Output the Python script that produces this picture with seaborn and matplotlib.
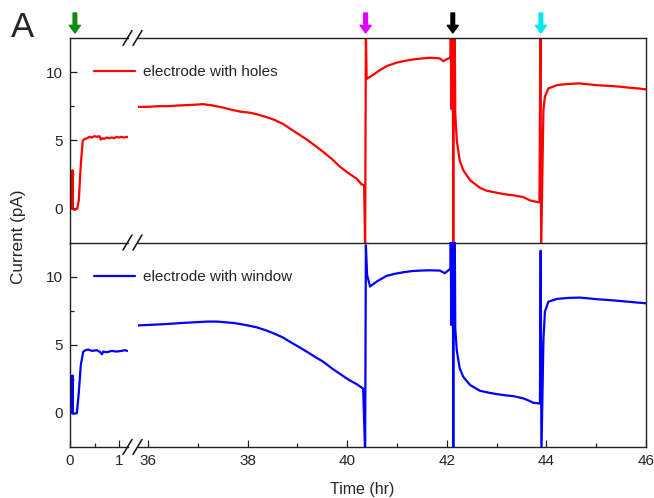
import numpy as np
import pandas as pd
import matplotlib
matplotlib.use("Agg")
import matplotlib.pyplot as plt
from matplotlib.lines import Line2D
from matplotlib.ticker import MultipleLocator, FixedLocator
import seaborn as sns

# ---------------- data ----------------
red_t1 = [0.00, 0.045, 0.05, 0.055, 0.10, 0.15, 0.18, 0.22, 0.26, 0.30, 0.35, 0.40, 0.45, 0.50,
          0.55, 0.60, 0.63, 0.66, 0.70, 0.75, 0.80, 0.85, 0.90, 0.95, 1.00, 1.05, 1.10, 1.17]
red_i1 = [0.00, 0.00, 2.80, -0.05, -0.10, 0.00, 0.60, 3.20, 4.95, 5.10, 5.15, 5.25, 5.20, 5.30,
          5.25, 5.30, 5.05, 5.15, 5.10, 5.20, 5.15, 5.20, 5.15, 5.25, 5.20, 5.25, 5.20, 5.25]

red_t2 = [35.80, 36.00, 36.20, 36.40, 36.60, 36.80, 37.00, 37.10, 37.30, 37.50, 37.70, 37.85,
          38.05, 38.18, 38.35, 38.52, 38.70, 38.85, 39.00, 39.19, 39.35, 39.52, 39.70, 39.86,
          40.02, 40.19, 40.29, 40.34,
          40.36, 40.375, 40.39, 40.50, 40.66, 40.80, 41.00, 41.20, 41.33, 41.50, 41.66, 41.80,
          41.86, 41.93, 42.00, 42.06, 42.075,
          42.08, 42.09, 42.10, 42.11, 42.12, 42.13, 42.14, 42.15, 42.16,
          42.17, 42.20, 42.26, 42.33, 42.47, 42.67, 42.80, 43.00, 43.20, 43.34, 43.54, 43.67,
          43.80, 43.86, 43.88, 43.895, 43.94, 43.97, 44.04, 44.21, 44.40, 44.67, 44.85, 45.01,
          45.20, 45.34, 45.50, 45.68, 45.85, 46.00]
red_i2 = [7.45, 7.45, 7.50, 7.50, 7.55, 7.58, 7.62, 7.65, 7.55, 7.40, 7.22, 7.10,
          7.02, 6.91, 6.73, 6.52, 6.22, 5.86, 5.50, 5.05, 4.62, 4.14, 3.60, 3.04,
          2.60, 2.18, 1.76, 1.70,
          -3.0, 13.0, 9.50, 9.75, 10.15, 10.45, 10.70, 10.85, 10.93, 11.00, 11.05, 11.02,
          11.00, 10.80, 10.95, 11.05, 11.00,
          13.0, 7.3, 13.0, 7.3, 13.0, -3.0, 13.0, 7.3, 13.0,
          7.00, 5.00, 3.50, 2.80, 2.06, 1.50, 1.30, 1.15, 1.02, 0.96, 0.83, 0.59,
          0.48, 0.45, 13.0, -3.0, 7.20, 8.20, 8.80, 9.04, 9.12, 9.17, 9.10, 9.04,
          9.00, 8.97, 8.92, 8.85, 8.80, 8.73]

blue_t1 = [0.00, 0.045, 0.05, 0.055, 0.10, 0.14, 0.18, 0.22, 0.27, 0.32, 0.37, 0.45, 0.55,
           0.62, 0.65, 0.68, 0.75, 0.85, 0.95, 1.05, 1.12, 1.17]
blue_i1 = [0.00, 0.00, 2.75, -0.05, -0.05, 0.00, 1.50, 3.50, 4.50, 4.60, 4.65, 4.55, 4.60,
           4.45, 4.30, 4.50, 4.45, 4.55, 4.50, 4.55, 4.60, 4.55]

blue_t2 = [35.80, 36.00, 36.37, 36.70, 37.04, 37.20, 37.38, 37.55, 37.71, 37.85, 38.00, 38.18,
           38.35, 38.52, 38.70, 38.85, 39.00, 39.19, 39.35, 39.52, 39.70, 39.86, 40.02, 40.19,
           40.32, 40.36, 40.375, 40.40, 40.46, 40.59, 40.79, 40.95, 41.13, 41.30, 41.46, 41.65,
           41.86, 41.96, 42.06, 42.075,
           42.08, 42.09, 42.10, 42.11, 42.12, 42.13, 42.14, 42.15, 42.16,
           42.17, 42.20, 42.26, 42.33, 42.47, 42.67, 42.85, 43.00, 43.20, 43.34, 43.54, 43.65,
           43.74, 43.87, 43.885, 43.90, 43.94, 43.97, 44.04, 44.21, 44.45, 44.67, 44.85, 45.01,
           45.25, 45.48, 45.75, 46.00]
blue_i2 = [6.42, 6.45, 6.52, 6.60, 6.67, 6.70, 6.70, 6.65, 6.60, 6.52, 6.42, 6.28,
           6.08, 5.84, 5.55, 5.22, 4.90, 4.49, 4.12, 3.75, 3.25, 2.85, 2.45, 2.11,
           1.79, -3.0, 12.3, 10.10, 9.27, 9.63, 10.05, 10.20, 10.32, 10.40, 10.44, 10.46,
           10.44, 10.25, 10.54, 10.55,
           13.0, 6.45, 13.0, 6.45, 13.0, -3.0, 13.0, 6.45, 13.0,
           6.20, 4.60, 3.26, 2.65, 2.04, 1.62, 1.48, 1.38, 1.28, 1.23, 1.06, 0.90,
           0.74, 0.69, 11.9, -3.0, 5.35, 7.43, 8.16, 8.36, 8.44, 8.46, 8.40, 8.34,
           8.28, 8.21, 8.12, 8.04]

labels = ["electrode with holes", "electrode with window"]
arrow_times = [0.10, 40.37, 42.12, 43.89]
arrow_colors = ["#118A11", "#DD00FF", "#000000", "#00E8F0"]
y_major = [0, 5, 10]
x_major_left = [0, 1]
x_major_right = [36, 38, 40, 42, 44, 46]

# ---------------- style ----------------
sns.set_style("ticks")
plt.rcParams["font.family"] = ["Liberation Sans", "DejaVu Sans"]
plt.rcParams["font.size"] = 11
plt.rcParams["path.simplify"] = False

W, H = 654, 498
fig = plt.figure(figsize=(W / 100, H / 100), dpi=100)

def fx(px):
    return px / W

def fy(py):
    return 1 - py / H

X0, XB1, XB2, X1 = 70, 127.5, 137.5, 646
Y_TOP, Y_MID, Y_BOT = 38, 242.5, 447

def make_ax(xl, xr, yt, yb):
    return fig.add_axes([fx(xl), fy(yb), (xr - xl) / W, (yb - yt) / H])

ax_tl = make_ax(X0, XB1, Y_TOP, Y_MID)
ax_tr = make_ax(XB2, X1, Y_TOP, Y_MID)
ax_bl = make_ax(X0, XB1, Y_MID, Y_BOT)
ax_br = make_ax(XB2, X1, Y_MID, Y_BOT)

lw = 1.6
kw = dict(lw=lw, sort=False, estimator=None, solid_joinstyle="round")
sns.lineplot(x=red_t1, y=red_i1, ax=ax_tl, color="#FF0000", **kw)
sns.lineplot(x=red_t2, y=red_i2, ax=ax_tr, color="#FF0000", **kw)
sns.lineplot(x=blue_t1, y=blue_i1, ax=ax_bl, color="#0000FF", **kw)
sns.lineplot(x=blue_t2, y=blue_i2, ax=ax_br, color="#0000FF", **kw)

left_xlim = (0, (XB1 - X0) / 49.0)
right_xlim = (36 - (148 - XB2) / 49.8, 46)

for ax in (ax_tl, ax_tr, ax_bl, ax_br):
    ax.set_ylim(-2.5, 12.5)
    ax.set_xlabel("")
    ax.set_ylabel("")
    ax.set_facecolor("none")
    for s in ax.spines.values():
        s.set_linewidth(1.0)
        s.set_color("#222222")
        s.set_visible(True)
    ax.tick_params(which="both", direction="in", top=False, right=False,
                   width=0.9, color="#222222", labelsize=11)
    ax.tick_params(which="major", length=5.3, pad=5)
    ax.tick_params(which="minor", length=3)

for ax in (ax_tl, ax_bl):
    ax.set_xlim(*left_xlim)
    ax.spines["right"].set_visible(False)
    ax.yaxis.set_major_locator(FixedLocator(y_major))
    ax.yaxis.set_minor_locator(FixedLocator([2.5, 7.5]))
for ax in (ax_tr, ax_br):
    ax.set_xlim(*right_xlim)
    ax.spines["left"].set_visible(False)
    ax.tick_params(which="both", left=False, labelleft=False)

for ax in (ax_tl, ax_tr):
    ax.tick_params(which="both", bottom=False, labelbottom=False)
for ax in (ax_bl, ax_br):
    ax.spines["top"].set_visible(False)

ax_bl.xaxis.set_major_locator(FixedLocator(x_major_left))
ax_bl.xaxis.set_minor_locator(FixedLocator([0.5]))
ax_br.xaxis.set_major_locator(FixedLocator(x_major_right))
ax_br.xaxis.set_minor_locator(FixedLocator([37, 39, 41, 43, 45]))

# legends (figure level so they sit above every axes)
for color, label, ypx in (("#FF0000", labels[0], 72), ("#0000FF", labels[1], 277)):
    h = Line2D([], [], color=color, lw=lw)
    fig.legend([h], [label], loc="center left", bbox_to_anchor=(fx(94), fy(ypx)),
               bbox_transform=fig.transFigure, frameon=False, borderpad=0,
               borderaxespad=0, handlelength=2.7, handletextpad=0.5, fontsize=11)

# break marks
for cy in (Y_TOP, Y_MID, Y_BOT):
    for cx in (XB1, XB2):
        fig.add_artist(Line2D([fx(cx - 4.5), fx(cx + 4.5)], [fy(cy + 7.5), fy(cy - 7.5)],
                              color="#111111", lw=1.1))

# arrows
for t, c in zip(arrow_times, arrow_colors):
    ax = ax_tl if t < 5 else ax_tr
    ax.annotate("", xy=(t, 1 + 5 / 204.5), xytext=(t, 1 + 25 / 204.5),
                xycoords=("data", "axes fraction"), textcoords=("data", "axes fraction"),
                arrowprops=dict(arrowstyle="simple,head_width=0.8,head_length=0.55,tail_width=0.26",
                                mutation_scale=10, color=c, shrinkA=0, shrinkB=0),
                annotation_clip=False)

fig.text(fx(11), fy(37), "A", fontsize=25, ha="left", va="baseline")
fig.text(fx(19), fy(237), "Current (pA)", rotation=90, ha="center", va="center", fontsize=12.3)
fig.text(fx(362), fy(489), "Time (hr)", ha="center", va="center", fontsize=11.5)

fig.savefig("out.png", dpi=100)
